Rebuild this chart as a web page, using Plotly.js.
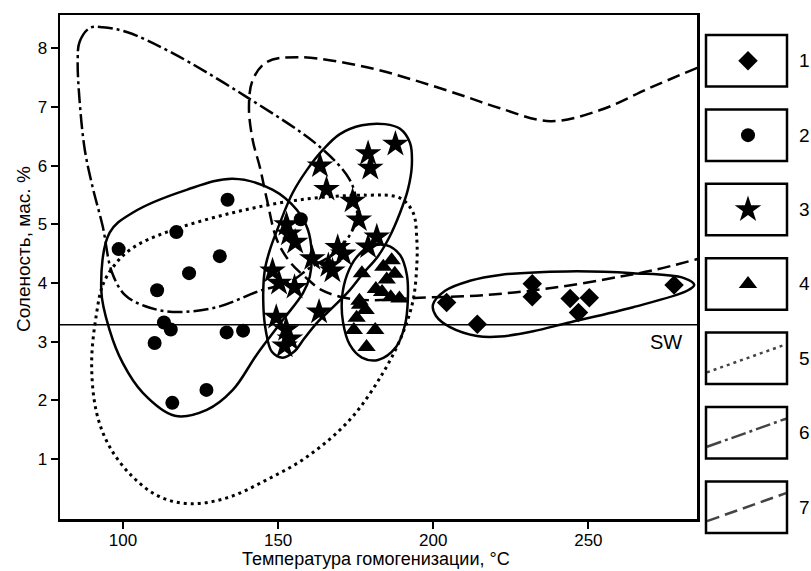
<!DOCTYPE html>
<html><head><meta charset="utf-8">
<script src="https://cdn.plot.ly/plotly-3.0.1.min.js"></script>
<style>html,body{margin:0;padding:0;background:#fff}</style>
</head><body><div id="chart" style="width:811px;height:571px"></div>
<script>
// ---------- data ----------
const diamondX = [204.3, 214.2, 231.9, 231.9, 244.1, 250.3, 246.8, 277.6];
const diamondY = [3.67, 3.30, 3.99, 3.77, 3.74, 3.75, 3.50, 3.97];

const circleX = [98.6, 117.2, 133.7, 121.3, 131.2, 111.0, 157.3, 113.2, 115.4, 110.2, 133.4, 138.7, 115.9, 126.9];
const circleY = [4.58, 4.87, 5.42, 4.17, 4.46, 3.88, 5.09, 3.33, 3.21, 2.98, 3.16, 3.19, 1.96, 2.18];

const starX = [163.5, 165.6, 179.0, 179.7, 187.8, 174.0, 176.0, 152.7, 153.5, 155.5, 161.0, 169.2, 171.0, 166.2, 167.5, 181.8, 179.0, 148.2, 150.3, 155.3, 163.2, 149.4, 152.6, 153.8, 152.1];
const starY = [6.00, 5.60, 6.21, 5.96, 6.37, 5.40, 5.08, 5.00, 4.84, 4.70, 4.42, 4.61, 4.50, 4.30, 4.21, 4.79, 4.62, 4.21, 4.00, 3.93, 3.51, 3.42, 3.21, 3.05, 2.93];

const triX = [186.6, 183.9, 187.6, 185.0, 181.5, 183.5, 186.3, 189.1, 177.0, 176.4, 178.2, 175.3, 174.4, 181.3, 178.5, 176.2];
const triY = [4.39, 4.28, 4.16, 4.06, 3.90, 3.85, 3.76, 3.74, 4.17, 3.63, 3.54, 3.41, 3.20, 3.20, 2.91, 3.70];

// outline of group 1 (diamonds)
const ell1X = [199.9, 203.8, 211.8, 221.5, 243.1, 264.4, 280.6, 284.1, 281.8, 264.4, 243.1, 232.2, 221.5, 214.1, 205.4, 200.9];
const ell1Y = [3.63, 3.87, 4.04, 4.14, 4.20, 4.17, 4.09, 3.97, 3.87, 3.59, 3.32, 3.18, 3.09, 3.10, 3.25, 3.44];
// outline of group 2 (circles)
const ell2X = [93.0, 95.7, 103.1, 120.5, 135.4, 148.3, 156.0, 159.6, 160.8, 160.2, 158.0, 151.5, 143.1, 135.4, 127.0, 116.7, 106.4, 99.9, 95.7];
const ell2Y = [3.88, 4.86, 5.20, 5.59, 5.78, 5.59, 5.25, 4.91, 4.51, 4.11, 3.83, 3.37, 2.78, 2.18, 1.84, 1.74, 2.13, 2.64, 3.20];
// outline of group 3 (stars)
const ell3X = [145.2, 145.7, 147.3, 150.6, 154.7, 159.3, 164.4, 169.9, 177.0, 184.4, 189.3, 192.5, 193.1, 191.8, 189.3, 186.0, 182.2, 177.3, 173.1, 167.7, 162.8, 158.6, 155.1, 151.5, 148.0, 146.0];
const ell3Y = [3.71, 4.22, 4.56, 5.03, 5.54, 5.93, 6.27, 6.54, 6.69, 6.71, 6.63, 6.39, 6.01, 5.59, 5.20, 4.80, 4.46, 4.16, 3.88, 3.59, 3.34, 3.07, 2.83, 2.73, 2.83, 3.20];
// outline of group 4 (triangles)
const ell4X = [184.7, 189.3, 191.5, 191.8, 190.9, 188.0, 182.2, 177.0, 173.1, 170.9, 170.6, 172.2, 175.4, 179.6];
const ell4Y = [4.65, 4.48, 4.14, 3.71, 3.29, 2.91, 2.69, 2.73, 2.95, 3.34, 3.75, 4.14, 4.45, 4.62];
// field 5 (dotted)
const field5X = [91.5, 93.5, 97.3, 103.1, 114.1, 135.4, 157.0, 178.6, 189.3, 193.5, 194.7, 194.7, 193.5, 190.2, 183.8, 173.1, 159.3, 146.4, 133.5, 121.5, 111.8, 103.1, 95.7, 91.5, 89.9];
const field5Y = [3.49, 3.97, 4.31, 4.60, 4.87, 5.20, 5.42, 5.50, 5.45, 5.20, 4.74, 4.31, 3.71, 3.15, 2.47, 1.67, 1.04, 0.65, 0.34, 0.24, 0.36, 0.70, 1.21, 1.79, 2.64];
// field 6 (dash-dot)
const field6X = [85.4, 86.0, 89.3, 93.5, 101.2, 116.0, 139.9, 163.5, 173.1, 175.4, 174.7, 171.5, 166.7, 160.2, 153.8, 144.1, 130.2, 116.0, 107.0, 100.6, 96.4, 93.5, 90.2, 87.7, 86.0];
const field6Y = [7.80, 8.11, 8.35, 8.36, 8.28, 7.92, 7.17, 6.32, 5.76, 5.33, 4.99, 4.70, 4.46, 4.26, 4.02, 3.87, 3.59, 3.51, 3.61, 3.80, 4.19, 4.96, 5.64, 6.27, 7.12];
// field 7 (dashed, open at right edge)
const field7X = [285.1, 269.9, 253.8, 237.7, 221.5, 210.9, 195.7, 178.6, 157.0, 146.4, 141.8, 140.6, 141.8, 144.1, 146.4, 149.6, 153.8, 158.6, 164.1, 171.5, 179.6, 195.7, 217.3, 238.6, 260.2, 270.9, 285.1];
const field7Y = [7.67, 7.33, 6.95, 6.76, 6.98, 7.17, 7.43, 7.68, 7.85, 7.77, 7.46, 7.00, 6.44, 5.98, 5.42, 4.74, 4.36, 4.11, 3.88, 3.75, 3.71, 3.75, 3.80, 3.92, 4.11, 4.22, 4.41];

const swLevel = 3.29;
const xTicks = [100, 150, 200, 250];
const yTicks = [1, 2, 3, 4, 5, 6, 7, 8];
const legendLabels = ['1', '2', '3', '4', '5', '6', '7'];

// ---------- layout helpers ----------
const FONT = 'Liberation Sans, Arial, sans-serif';
const W = 811, H = 571, ML = 60, MT = 10, MB = 20;
const plotW = W - ML, plotH = H - MT - MB;
const pX = px => (px - ML) / plotW;
const pY = py => (H - MB - py) / plotH;
const close = a => a.concat([a[0]]);

function outline(x, y, dash, width, closed) {
  return {
    type: 'scatter', mode: 'lines', xaxis: 'x', yaxis: 'y', hoverinfo: 'skip',
    x: closed ? close(x) : x, y: closed ? close(y) : y,
    line: {color: '#000', width: width, dash: dash, shape: 'spline', smoothing: 1}
  };
}
function pts(x, y, symbol, size) {
  return {type: 'scatter', mode: 'markers', xaxis: 'x', yaxis: 'y', x: x, y: y, hoverinfo: 'skip',
    marker: {symbol: symbol, size: size, color: '#000', line: {width: 0}}, cliponaxis: false};
}

const SIZES = {diamond: 15, circle: 14, star: 20, tri: 16};

const traces = [
  outline(field5X, field5Y, '3px,4px', 3, true),
  outline(field6X, field6Y, '15px,4px,3px,4px', 2.5, true),
  outline(field7X, field7Y, '13px,6px', 2.5, false),
  outline(ell1X, ell1Y, 'solid', 2.5, true),
  outline(ell2X, ell2Y, 'solid', 2.5, true),
  outline(ell3X, ell3Y, 'solid', 2.5, true),
  outline(ell4X, ell4Y, 'solid', 2.5, true),
  pts(diamondX, diamondY, 'diamond', SIZES.diamond),
  pts(circleX, circleY, 'circle', SIZES.circle),
  pts(starX, starY, 'star', SIZES.star),
  pts(triX, triY, 'triangle-up', SIZES.tri)
];

// ---------- legend (pixel space on x2/y2) ----------
const boxL = 706, boxR = 787, boxTop0 = 35, boxH = 51.5, boxStep = 74.4, keyX = 748;
const keySymbols = ['diamond', 'circle', 'star', 'triangle-up'];
const keySizes = [SIZES.diamond, SIZES.circle, SIZES.star, SIZES.tri];
const keyDash = ['3px,4px', '15px,4px,3px,4px', '13px,6px'];
const shapes = [];
const annotations = [];
legendLabels.forEach((lab, i) => {
  const top = boxTop0 + i * boxStep, cy = top + boxH / 2;
  shapes.push({type: 'rect', xref: 'x2', yref: 'y2', x0: boxL, x1: boxR, y0: top, y1: top + boxH,
    line: {color: '#000', width: 2.5}, fillcolor: 'rgba(0,0,0,0)'});
  annotations.push({xref: 'x2', yref: 'y2', x: 797, y: cy, text: lab, showarrow: false,
    xanchor: 'left', yanchor: 'middle', font: {family: FONT, size: 19, color: '#000'}});
  if (i < 4) {
    traces.push({type: 'scatter', mode: 'markers', xaxis: 'x2', yaxis: 'y2', x: [keyX], y: [cy],
      hoverinfo: 'skip', cliponaxis: false,
      marker: {symbol: keySymbols[i], size: keySizes[i], color: '#000', line: {width: 0}}});
  } else {
    traces.push({type: 'scatter', mode: 'lines', xaxis: 'x2', yaxis: 'y2',
      x: [boxL + 1, boxR - 1], y: [cy + 14, cy - 14], hoverinfo: 'skip',
      line: {color: '#444', width: 2.5, dash: keyDash[i - 4]}});
  }
});

// SW reference line
shapes.push({type: 'line', xref: 'x domain', yref: 'y', x0: 0, x1: 1, y0: swLevel, y1: swLevel,
  line: {color: '#000', width: 1.5}});
annotations.push({xref: 'x', yref: 'y', x: 275, y: swLevel - 0.08, text: 'SW', showarrow: false,
  xanchor: 'center', yanchor: 'top', font: {family: FONT, size: 20, color: '#000'}});

// axis titles
annotations.push({xref: 'paper', yref: 'paper', x: pX(376), y: pY(559), text: 'Температура гомогенизации, °C',
  showarrow: false, xanchor: 'center', yanchor: 'middle', font: {family: FONT, size: 18, color: '#000'}});
annotations.push({xref: 'paper', yref: 'paper', x: pX(23), y: pY(249), text: 'Соленость, мас. %', textangle: -90,
  showarrow: false, xanchor: 'center', yanchor: 'middle', font: {family: FONT, size: 19, color: '#000'}});

const axisCommon = {
  showgrid: false, zeroline: false, showline: true, mirror: true, linecolor: '#000', linewidth: 2.5,
  ticks: 'outside', ticklen: 7, tickwidth: 2, tickcolor: '#000',
  tickfont: {family: FONT, size: 17, color: '#000'}, fixedrange: true
};

const layout = {
  width: W, height: H, margin: {l: ML, r: 0, t: MT, b: MB, pad: 0},
  paper_bgcolor: '#fff', plot_bgcolor: 'rgba(0,0,0,0)', showlegend: false,
  xaxis: Object.assign({}, axisCommon, {range: [79.7, 285], tickvals: xTicks, ticktext: xTicks.map(String),
    domain: [0, pX(697)], anchor: 'y', ticklabelstandoff: -3}),
  yaxis: Object.assign({}, axisCommon, {range: [-0.02, 8.57], tickvals: yTicks, ticktext: yTicks.map(String),
    domain: [pY(519), pY(15)], anchor: 'x'}),
  xaxis2: {domain: [pX(700), 1], range: [700, 811], visible: false, fixedrange: true, anchor: 'y2'},
  yaxis2: {domain: [0, 1], range: [H - MB, MT], visible: false, fixedrange: true, anchor: 'x2'},
  shapes: shapes, annotations: annotations
};

Plotly.newPlot('chart', traces, layout, {staticPlot: true, displayModeBar: false});
</script></body></html>
